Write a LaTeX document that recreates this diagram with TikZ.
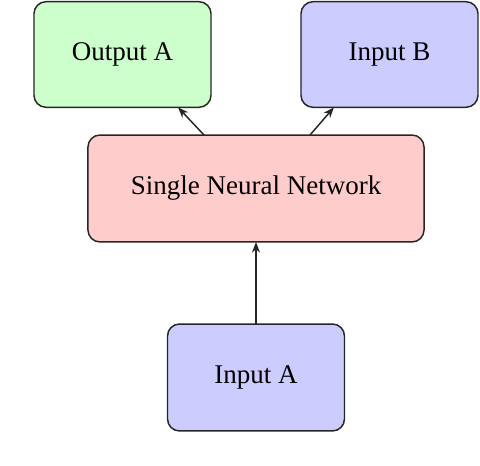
\documentclass[tikz,border=0pt]{standalone}
\usepackage{fontspec}
\setmainfont{Liberation Serif}
\usetikzlibrary{arrows.meta,calc}
\definecolor{boxgreen}{HTML}{CCFFCC}
\definecolor{boxblue}{HTML}{CCCCFF}
\definecolor{boxred}{HTML}{FFCCCC}
\begin{document}
\begin{tikzpicture}[x=0.374pt,y=-0.374pt,
  blockbox/.style={draw=black!85,line width=0.55pt,rounded corners=4.5pt,inner sep=0pt,outer sep=0pt,
    align=center,font=\fontsize{10.1}{12}\selectfont},
  smallbox/.style={blockbox,minimum width=66.2pt,minimum height=39.5pt},
  conn/.style={draw=black!85,line width=0.55pt,-{Stealth[length=4pt,width=3pt]}}]
\useasboundingbox (0,0) rectangle (480,466);
\node[smallbox,fill=boxgreen] (outa) at (122.5,54.5) {Output A};
\node[smallbox,fill=boxblue] (inb) at (389.5,54.5) {Input B};
\node[blockbox,fill=boxred,minimum width=125.7pt,minimum height=40pt] (snn) at (256,188.5) {Single Neural Network};
\node[smallbox,fill=boxblue,minimum height=40pt] (ina) at (256,377.5) {Input A};
\draw[conn] (ina.north) -- (snn.south);
\draw[conn] ($(snn.north)+(-52,0)$) -- ($(outa.south)+(55.5,0)$);
\draw[conn] ($(snn.north)+(54,0)$) -- ($(inb.south)+(-55.5,0)$);
\end{tikzpicture}
\end{document}
